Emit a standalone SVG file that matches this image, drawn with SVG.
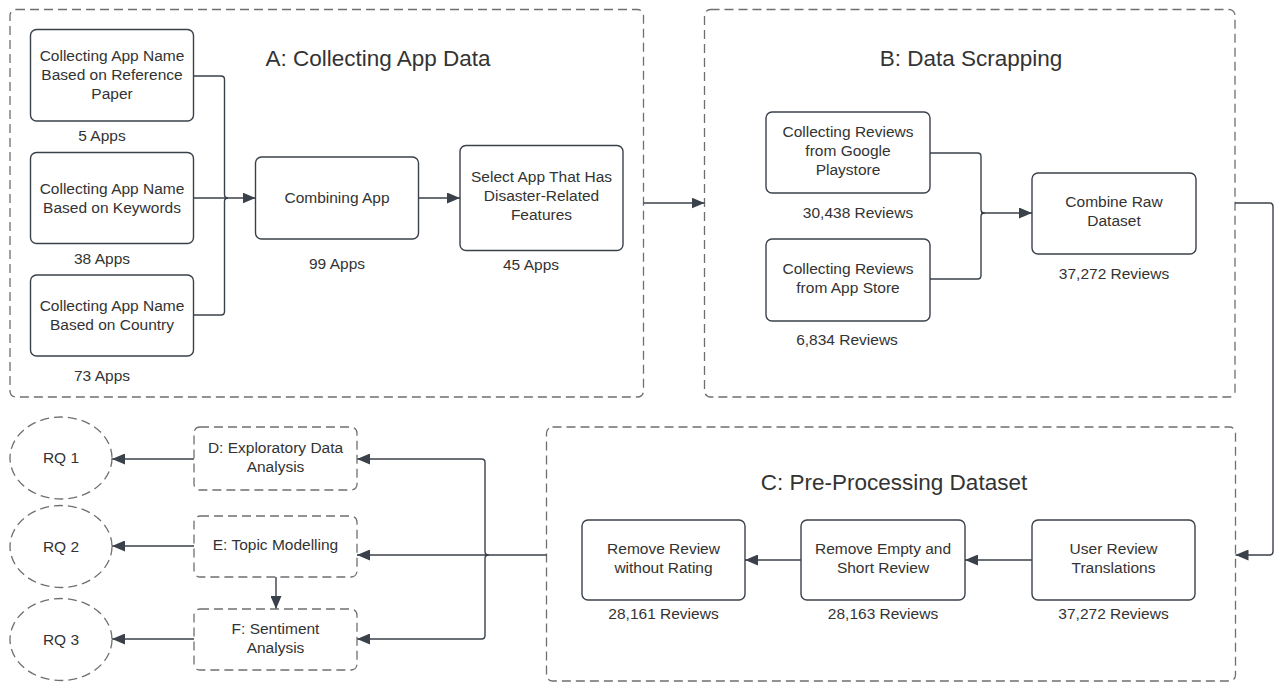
<svg xmlns="http://www.w3.org/2000/svg" width="1276" height="683" viewBox="0 0 1276 683">
<defs>
<marker id="ah" markerUnits="userSpaceOnUse" markerWidth="13" markerHeight="11" refX="13" refY="5.5" orient="auto">
<path d="M0,0 L13,5.5 L0,11 z" fill="#3a414a"/>
</marker>
<style>
.ct{fill:none;stroke:#6f6f6f;stroke-width:1.3;stroke-dasharray:9 5}
.bx{fill:#fff;stroke:#3a414a;stroke-width:1.4}
.db{fill:#fff;stroke:#6f6f6f;stroke-width:1.3;stroke-dasharray:9 5}
.t{font-family:"Liberation Sans",Arial,sans-serif;font-size:15.5px;fill:#333;text-anchor:middle}
.h{font-family:"Liberation Sans",Arial,sans-serif;font-size:22.5px;fill:#333;text-anchor:middle}
.c{fill:none;stroke:#3a414a;stroke-width:1.4}
</style>
</defs>
<rect width="1276" height="683" fill="#fff"/>

<g id="containerA">
<rect class="ct" x="10" y="9.5" width="633.5" height="387.5" rx="6"/>
<text class="h" x="378" y="66">A: Collecting App Data</text>
</g>
<g id="containerB">
<rect class="ct" x="704.5" y="9.5" width="530.5" height="387.5" rx="6"/>
<text class="h" x="971" y="66">B: Data Scrapping</text>
</g>
<g id="containerC">
<rect class="ct" x="546.5" y="427" width="689" height="254" rx="6"/>
<text class="h" x="894" y="490">C: Pre-Processing Dataset</text>
</g>

<g id="connectors" class="c">
<path d="M194,76 H221 Q224.5,76 224.5,79.5 V194.5 Q224.5,198 228,198"/>
<path d="M194,315 H221 Q224.5,315 224.5,311.5 V201.5 Q224.5,198 228,198"/>
<path d="M194,198 H255.5" marker-end="url(#ah)"/>
<path d="M418.5,198 H460" marker-end="url(#ah)"/>
<path d="M643.5,203 H704.5" marker-end="url(#ah)"/>
<path d="M930,153 H977.5 Q981,153 981,156.5 V209.5 Q981,213 984.5,213"/>
<path d="M930,279 H977.5 Q981,279 981,275.5 V216.5 Q981,213 984.5,213"/>
<path d="M981,213 H1032" marker-end="url(#ah)"/>
<path d="M1235,203 H1269.5 Q1273,203 1273,206.5 V551.5 Q1273,555 1269.5,555 H1235.5" marker-end="url(#ah)"/>
<path d="M1032,560 H965" marker-end="url(#ah)"/>
<path d="M801,560 H745" marker-end="url(#ah)"/>
<path d="M546.5,555 H357" marker-end="url(#ah)"/>
<path d="M488.5,555 Q485,555 485,551.5 V462.5 Q485,459 481.5,459 H357" marker-end="url(#ah)"/>
<path d="M488.5,555 Q485,555 485,558.5 V635.5 Q485,639 481.5,639 H357" marker-end="url(#ah)"/>
<path d="M276,577 V609" marker-end="url(#ah)"/>
<path d="M194,459 H112" marker-end="url(#ah)"/>
<path d="M194,546 H112" marker-end="url(#ah)"/>
<path d="M194,639 H112" marker-end="url(#ah)"/>
</g>

<g id="a1">
<rect class="bx" x="30.5" y="29.5" width="163" height="91.5" rx="6"/>
<text class="t" x="112" y="60.5">Collecting App Name</text>
<text class="t" x="112" y="79.5">Based on Reference</text>
<text class="t" x="112" y="98.5">Paper</text>
<text class="t" x="102" y="140.5">5 Apps</text>
</g>
<g id="a2">
<rect class="bx" x="30.5" y="152.5" width="163" height="91" rx="6"/>
<text class="t" x="112" y="193.5">Collecting App Name</text>
<text class="t" x="112" y="212.5">Based on Keywords</text>
<text class="t" x="102" y="263.5">38 Apps</text>
</g>
<g id="a3">
<rect class="bx" x="30.5" y="275" width="163" height="81" rx="6"/>
<text class="t" x="112" y="311">Collecting App Name</text>
<text class="t" x="112" y="330">Based on Country</text>
<text class="t" x="102" y="380.5">73 Apps</text>
</g>
<g id="a4">
<rect class="bx" x="255.5" y="157" width="163" height="82" rx="6"/>
<text class="t" x="337" y="202.5">Combining App</text>
<text class="t" x="337" y="268.5">99 Apps</text>
</g>
<g id="a5">
<rect class="bx" x="460" y="145.5" width="163" height="105" rx="6"/>
<text class="t" x="541.5" y="181.5">Select App That Has</text>
<text class="t" x="541.5" y="200.5">Disaster-Related</text>
<text class="t" x="541.5" y="219.5">Features</text>
<text class="t" x="531" y="269.5">45 Apps</text>
</g>

<g id="b1">
<rect class="bx" x="766" y="112" width="164" height="81" rx="6"/>
<text class="t" x="848" y="136.5">Collecting Reviews</text>
<text class="t" x="848" y="155.5">from Google</text>
<text class="t" x="848" y="174.5">Playstore</text>
<text class="t" x="858" y="217.5">30,438 Reviews</text>
</g>
<g id="b2">
<rect class="bx" x="766" y="239" width="164" height="82" rx="6"/>
<text class="t" x="848" y="274">Collecting Reviews</text>
<text class="t" x="848" y="293">from App Store</text>
<text class="t" x="847" y="344.5">6,834 Reviews</text>
</g>
<g id="b3">
<rect class="bx" x="1032" y="173" width="164" height="81" rx="6"/>
<text class="t" x="1114" y="206.5">Combine Raw</text>
<text class="t" x="1114" y="225.5">Dataset</text>
<text class="t" x="1114" y="278.5">37,272 Reviews</text>
</g>

<g id="c1">
<rect class="bx" x="1032" y="520" width="163" height="80" rx="6"/>
<text class="t" x="1113.5" y="553.5">User Review</text>
<text class="t" x="1113.5" y="572.5">Translations</text>
<text class="t" x="1113.5" y="618.5">37,272 Reviews</text>
</g>
<g id="c2">
<rect class="bx" x="801" y="520" width="164" height="80" rx="6"/>
<text class="t" x="883" y="553.5">Remove Empty and</text>
<text class="t" x="883" y="572.5">Short Review</text>
<text class="t" x="883" y="618.5">28,163 Reviews</text>
</g>
<g id="c3">
<rect class="bx" x="582" y="520" width="163" height="80" rx="6"/>
<text class="t" x="663.5" y="553.5">Remove Review</text>
<text class="t" x="663.5" y="572.5">without Rating</text>
<text class="t" x="663.5" y="618.5">28,161 Reviews</text>
</g>

<g id="d">
<rect class="db" x="194" y="427" width="163" height="63" rx="6"/>
<text class="t" x="275.5" y="452.5">D: Exploratory Data</text>
<text class="t" x="275.5" y="471.5">Analysis</text>
</g>
<g id="e">
<rect class="db" x="194" y="516" width="163" height="61" rx="6"/>
<text class="t" x="275.5" y="549.5">E: Topic Modelling</text>
</g>
<g id="f">
<rect class="db" x="194" y="609" width="163" height="61" rx="6"/>
<text class="t" x="275.5" y="634">F: Sentiment</text>
<text class="t" x="275.5" y="653">Analysis</text>
</g>

<g id="rq1">
<ellipse class="db" cx="61" cy="458" rx="51" ry="41"/>
<text class="t" x="61" y="463">RQ 1</text>
</g>
<g id="rq2">
<ellipse class="db" cx="61" cy="546.5" rx="51" ry="41"/>
<text class="t" x="61" y="551.5">RQ 2</text>
</g>
<g id="rq3">
<ellipse class="db" cx="61" cy="639.5" rx="51" ry="41"/>
<text class="t" x="61" y="644.5">RQ 3</text>
</g>
</svg>
